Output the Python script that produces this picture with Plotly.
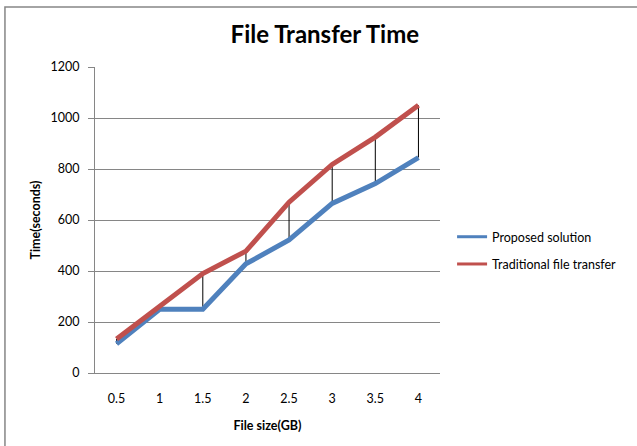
import plotly.graph_objects as go

file_sizes = ["0.5", "1", "1.5", "2", "2.5", "3", "3.5", "4"]
proposed = [115, 250, 250, 428, 522, 665, 743, 845]
traditional = [133, 260, 390, 478, 670, 818, 925, 1050]
y_ticks = [0, 200, 400, 600, 800, 1000, 1200]
series_names = ["Proposed solution", "Traditional file transfer"]
series_colors = ["#4F81BD", "#C0504D"]

FONT = "Lato, Open Sans, sans-serif"
idx = list(range(len(file_sizes)))

fig = go.Figure()

# high-low drop lines
hx, hy = [], []
for i, p, t in zip(idx, proposed, traditional):
    hx += [i, i, None]
    hy += [p, t, None]
fig.add_trace(go.Scatter(x=hx, y=hy, mode="lines", line=dict(color="black", width=1),
                         showlegend=False, hoverinfo="skip"))

for name, vals, col in zip(series_names, [proposed, traditional], series_colors):
    fig.add_trace(go.Scatter(x=idx, y=vals, mode="lines", name=name, showlegend=False,
                             legendgroup=name, line=dict(color=col, width=5)))
    # legend proxy with thinner line
    fig.add_trace(go.Scatter(x=[None], y=[None], mode="lines", name=name,
                             legendgroup=name, line=dict(color=col, width=3)))

fig.update_layout(
    width=637, height=446,
    margin=dict(l=95, r=197, t=67, b=73),
    paper_bgcolor="white", plot_bgcolor="white",
    font=dict(family=FONT, size=12.5, color="black"),
    title=dict(text="<b>File Transfer Time</b>", x=0.51, xanchor="center",
               y=0.922, yanchor="middle", font=dict(size=24, family=FONT)),
    legend=dict(x=1.035, xanchor="left", y=0.40, yanchor="middle",
                font=dict(size=12.5), tracegroupgap=8, itemwidth=30,
                bgcolor="rgba(0,0,0,0)"),
    xaxis=dict(range=[-0.5, len(file_sizes) - 0.5], tickmode="array",
               tickvals=idx, ticktext=file_sizes, showgrid=False,
               showline=True, linecolor="#868686", linewidth=1,
               ticks="", ticklabelstandoff=14,
               title=dict(text="<b>File size(GB)</b>", font=dict(size=12.5), standoff=16),
               zeroline=False, fixedrange=True),
    yaxis=dict(range=[0, 1200], tickmode="array", tickvals=y_ticks,
               showgrid=True, gridcolor="#868686", gridwidth=1,
               showline=True, linecolor="#868686", linewidth=1,
               ticks="outside", ticklen=6, tickcolor="#868686",
               ticklabelstandoff=6,
               title=dict(text="<b>Time(seconds)</b>", font=dict(size=12.5), standoff=7),
               zeroline=False, fixedrange=True),
    shapes=[dict(type="rect", xref="paper", yref="paper",
                 x0=-0.261, y0=-0.6, x1=2.0, y1=1.196,
                 line=dict(color="#868686", width=1.5), layer="below")],
)

fig.write_html("out.html")
